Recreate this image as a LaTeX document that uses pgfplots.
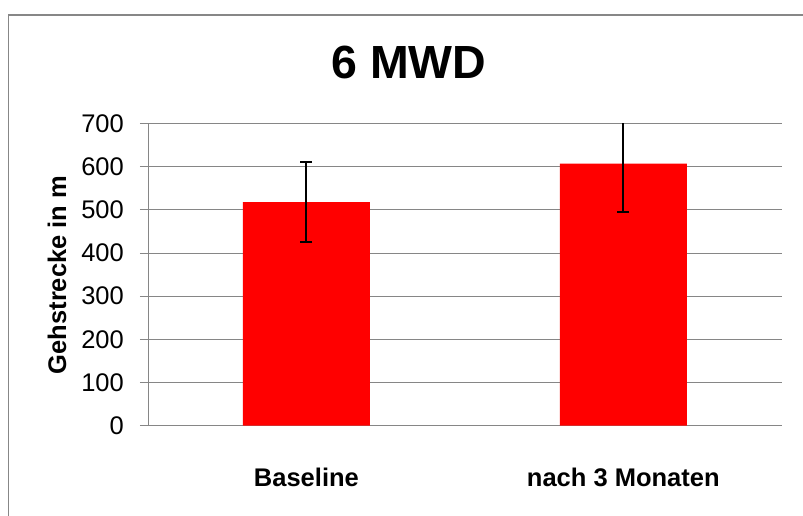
\documentclass[border=0pt]{standalone}
\usepackage{pgfplots}
\pgfplotsset{compat=1.18}
\usepackage{fontspec}
\setmainfont{Liberation Sans}
\definecolor{gridgray}{RGB}{134,134,134}
\definecolor{framegray}{RGB}{135,135,135}
\definecolor{barred}{RGB}{255,0,0}
\begin{document}
\begin{tikzpicture}[x=1pt,y=1pt]
\useasboundingbox (0,0) rectangle (803,516);
\clip (0,0) rectangle (803,516);
\draw[framegray, line width=1.3pt] (8.7,-20) rectangle (830,501);
\begin{axis}[
  at={(148pt,90.3pt)}, anchor=south west,
  scale only axis, width=633.7pt, height=302.2pt,
  ybar, bar width=127pt,
  xmin=-0.5, xmax=1.5, ymin=0, ymax=700,
  xtick={0,1}, xticklabels={Baseline, nach 3 Monaten},
  ytick={0,100,...,700},
  ymajorgrids, grid style={gridgray, line width=1pt},
  axis x line=bottom, axis y line=left,
  axis line style={gridgray, line width=1pt, -},
  x tick style={draw=none},
  y tick style={gridgray, line width=1pt},
  tick align=outside, major tick length=8pt,
  /pgf/number format/assume math mode=true,
  yticklabel style={font=\fontsize{25.5}{30}\selectfont, inner sep=0pt, xshift=-16pt},
  xticklabel style={font=\fontsize{25.5}{30}\selectfont\bfseries, anchor=base, yshift=-53pt},
]
\addplot[fill=barred, draw=none,
  error bars/.cd, y dir=both, y explicit,
  error bar style={black, line width=2pt},
  error mark options={rotate=90, black, line width=2pt, mark size=6pt}]
  coordinates {(0,518) +- (0,93) (1,607) +- (0,113)};
\end{axis}
\node[font=\fontsize{46.5}{52}\selectfont\bfseries] at (409,453) {6 MWD};
\node[rotate=90, font=\fontsize{25.5}{30}\selectfont\bfseries] at (57,241) {Gehstrecke in m};
\end{tikzpicture}
\end{document}
